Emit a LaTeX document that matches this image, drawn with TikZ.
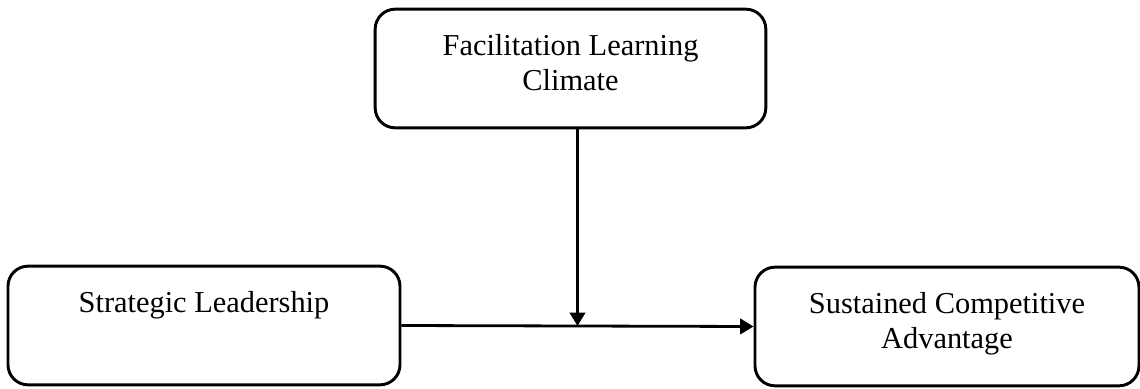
\documentclass[tikz,border=0pt]{standalone}
\usepackage{fontspec}
\setmainfont{Liberation Serif}
\usetikzlibrary{arrows.meta,calc,positioning}

\begin{document}
\begin{tikzpicture}[x=0.75pt,y=-0.75pt,>={Triangle[length=10pt,width=11.5pt]},
  box/.style={draw,line width=2.2pt,rounded corners=15pt,minimum height=89pt},
  txt/.style={font=\fontsize{22.8}{26.5}\selectfont,align=center,inner sep=0pt,anchor=north},
  link/.style={->,line width=2.1pt}]
\useasboundingbox (0,0) rectangle (1140,389);
% the three boxes
\node[box,minimum width=293pt] (flc) at (570.5,68.5) {};
\node[box,minimum width=294pt] (sl) at (204,325.5) {};
\node[box,minimum width=288pt] (sca) at (947,326.5) {};
% their texts sit near the top edge
\node[txt] (flct) at ([yshift=-19.5pt]flc.north) {Facilitation Learning\\Climate};
\node[txt] (slt) at ([yshift=-19.5pt]sl.north) {Strategic Leadership};
\node[txt] (scat) at ([yshift=-19.5pt]sca.north) {Sustained Competitive\\Advantage};
% main path and the moderating arrow onto it
\coordinate (mid) at ($(sl.east)!0.5!(sca.west)$);
\draw[link] (sl.east) -- (sca.west);
\draw[link] (flc.south -| mid) -- (mid);
\end{tikzpicture}
\end{document}
